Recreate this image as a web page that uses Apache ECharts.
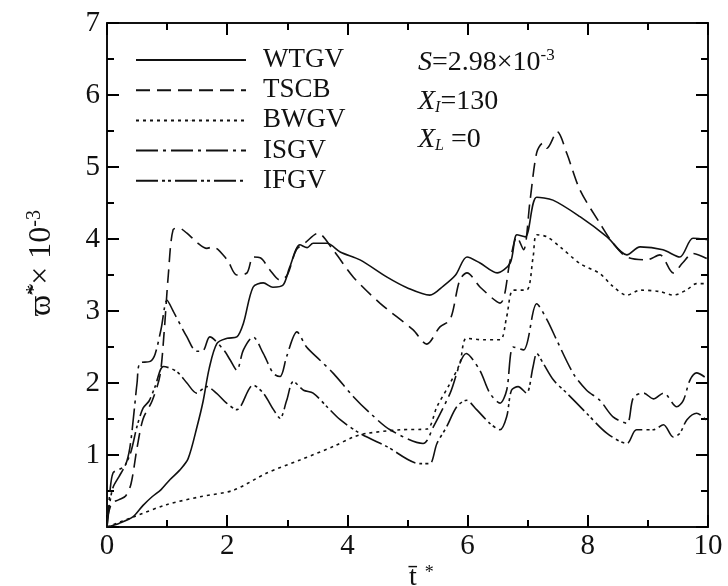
<!DOCTYPE html>
<html>
<head>
<meta charset="utf-8">
<script src="https://cdn.jsdelivr.net/npm/echarts@6/dist/echarts.min.js"></script>
<style>
  html, body { margin: 0; padding: 0; background: #fff; }
  #chart { width: 728px; height: 586px; }
</style>
</head>
<body>
<div id="chart"></div>
<script>
// values, [z, omega x 1e-3]
const wtgv = [[0,0],[0.2,0.05],[0.43,0.14],[0.6,0.3],[0.75,0.42],[0.9,0.52],[1.05,0.66],[1.21,0.79],[1.35,0.95],
  [1.5,1.4],[1.6,1.75],[1.7,2.2],[1.83,2.55],[2.0,2.62],[2.16,2.64],[2.27,2.83],[2.43,3.33],[2.6,3.39],[2.76,3.33],
  [2.93,3.36],[3.04,3.61],[3.21,3.92],[3.33,3.88],[3.43,3.94],[3.66,3.94],[3.88,3.82],[4.21,3.71],[4.66,3.47],
  [5.0,3.32],[5.37,3.22],[5.6,3.35],[5.8,3.5],[5.99,3.75],[6.2,3.67],[6.49,3.53],[6.71,3.67],[6.82,4.06],[6.96,4.03],
  [7.15,4.58],[7.42,4.54],[7.87,4.31],[8.32,4.03],[8.65,3.78],[8.87,3.89],[9.25,3.85],[9.53,3.75],[9.75,4.01],[10,3.99]];

const tscb = [[0,0.1],[0.08,0.33],[0.2,0.38],[0.31,0.43],[0.4,0.6],[0.5,1.1],[0.6,1.5],[0.75,1.75],[0.88,2.1],
  [0.95,2.7],[1.02,3.5],[1.1,4.13],[1.2,4.15],[1.33,4.08],[1.5,3.95],[1.66,3.87],[1.76,3.89],[2.0,3.71],[2.16,3.5],
  [2.33,3.53],[2.43,3.75],[2.55,3.74],[2.71,3.57],[2.88,3.43],[3.0,3.5],[3.15,3.85],[3.3,3.95],[3.51,4.08],
  [3.76,3.85],[4.1,3.47],[4.54,3.11],[5.09,2.74],[5.32,2.54],[5.54,2.78],[5.71,2.88],[5.87,3.43],[5.99,3.53],
  [6.21,3.33],[6.54,3.11],[6.71,3.71],[6.82,4.03],[6.93,3.85],[7.04,4.54],[7.15,5.2],[7.25,5.33],[7.32,5.26],
  [7.49,5.49],[7.65,5.19],[7.87,4.68],[8.2,4.22],[8.42,3.94],[8.65,3.75],[8.98,3.71],[9.2,3.78],[9.42,3.53],
  [9.58,3.67],[9.75,3.8],[10,3.72]];

const bwgv = [[0,0],[0.44,0.14],[0.99,0.31],[1.55,0.42],[2.1,0.51],[2.66,0.75],[3.21,0.93],[3.77,1.12],[4.1,1.25],
  [4.32,1.3],[4.88,1.35],[5.32,1.36],[5.49,1.67],[5.71,2.0],[5.87,2.27],[5.98,2.62],[6.26,2.6],[6.54,2.6],
  [6.65,2.92],[6.76,3.29],[6.98,3.29],[7.09,3.75],[7.15,4.06],[7.32,4.03],[7.54,3.89],[7.87,3.66],[8.2,3.52],
  [8.42,3.34],[8.65,3.22],[8.87,3.29],[9.2,3.27],[9.42,3.22],[9.64,3.29],[9.81,3.38],[10,3.38]];

const isgv = [[0,0],[0.05,0.5],[0.1,0.75],[0.2,0.8],[0.3,0.85],[0.38,1.1],[0.45,1.6],[0.5,2.0],[0.55,2.28],
  [0.72,2.3],[0.8,2.4],[0.9,2.75],[1.0,3.15],[1.1,3.0],[1.33,2.64],[1.49,2.44],[1.6,2.45],[1.71,2.64],[1.94,2.46],
  [2.05,2.32],[2.16,2.18],[2.27,2.46],[2.43,2.64],[2.6,2.41],[2.77,2.13],[2.88,2.09],[2.99,2.37],[3.16,2.71],
  [3.32,2.5],[3.54,2.32],[3.77,2.13],[4.1,1.81],[4.38,1.58],[4.71,1.35],[5.26,1.16],[5.43,1.39],[5.71,1.86],
  [5.98,2.41],[6.2,2.18],[6.37,1.86],[6.54,1.72],[6.65,1.9],[6.76,2.5],[6.93,2.46],[7.15,3.1],[7.32,2.88],
  [7.48,2.6],[7.76,2.13],[7.98,1.9],[8.2,1.76],[8.42,1.53],[8.65,1.44],[8.76,1.8],[8.93,1.86],[9.09,1.78],
  [9.26,1.86],[9.48,1.67],[9.59,1.76],[9.7,2.04],[9.81,2.14],[10,2.05]];

const ifgv = [[0,0],[0.05,0.35],[0.1,0.55],[0.2,0.7],[0.3,0.85],[0.4,1.05],[0.5,1.4],[0.6,1.65],[0.7,1.75],
  [0.8,1.95],[0.94,2.23],[1.16,2.16],[1.33,2.0],[1.49,1.86],[1.66,1.95],[1.82,1.86],[1.99,1.72],[2.16,1.63],
  [2.43,1.97],[2.6,1.86],[2.77,1.63],[2.88,1.51],[2.99,1.76],[3.1,2.02],[3.27,1.9],[3.43,1.86],[3.66,1.67],
  [3.88,1.49],[4.21,1.3],[4.65,1.12],[5.21,0.88],[5.37,0.88],[5.49,1.16],[5.65,1.39],[5.82,1.67],[5.98,1.76],
  [6.15,1.63],[6.37,1.44],[6.54,1.35],[6.65,1.53],[6.73,1.9],[6.84,1.95],[6.98,1.86],[7.09,2.23],[7.15,2.41],
  [7.26,2.27],[7.43,2.04],[7.65,1.86],[7.98,1.58],[8.32,1.3],[8.65,1.16],[8.81,1.35],[9.09,1.35],[9.26,1.42],
  [9.42,1.25],[9.53,1.3],[9.65,1.49],[9.81,1.58],[10,1.46]];

const seriesNames = ['WTGV', 'TSCB', 'BWGV', 'ISGV', 'IFGV'];
const seriesData = [wtgv, tscb, bwgv, isgv, ifgv];
const dashTypes = ['solid', [14, 7], [3, 4], [22, 5, 3, 5], [22, 4, 3, 3, 3, 4]];

const serif = 'Liberation Serif, Times New Roman, serif';
const ink = '#111';

const chart = echarts.init(document.getElementById('chart'));

// frame axis: line + inward ticks; split lines kept on but invisible
function frameAxis(extra) {
    return Object.assign({
        type: 'value',
        axisLine: {show: true, onZero: false, lineStyle: {color: ink, width: 2}},
        axisTick: {show: true, inside: true, length: 12, lineStyle: {color: '#000', width: 2}},
        minorTick: {show: true, splitNumber: 2, length: 7, lineStyle: {color: '#000', width: 2}},
        splitLine: {show: true, lineStyle: {color: 'rgba(0,0,0,0)'}}
    }, extra);
}

chart.setOption({
    backgroundColor: '#fff',
    animation: false,
    grid: {left: 107, right: 20, top: 23, bottom: 59},
    legend: {
        orient: 'vertical',
        left: 135,
        top: 46,
        padding: 0,
        itemWidth: 110,
        itemHeight: 1,
        itemGap: 2.2,
        data: seriesNames,
        textStyle: {fontFamily: serif, fontSize: 27, color: ink, lineHeight: 28, padding: [0, 0, 0, 12]}
    },
    xAxis: [
        frameAxis({
            min: 0, max: 10, interval: 2, position: 'bottom',
            axisLabel: {fontFamily: serif, fontSize: 29, color: ink, margin: 5}
        }),
        frameAxis({
            min: 0, max: 10, interval: 2, position: 'top',
            axisLabel: {show: false}
        })
    ],
    yAxis: [
        frameAxis({
            min: 0, max: 7, interval: 1, position: 'left',
            axisLabel: {
                fontFamily: serif, fontSize: 29, color: ink, margin: 7,
                formatter: function (v) { return v === 0 ? '' : v; }
            },
            name: '{w|\u03d6\u0303}{s|*}{t|\u00d7 10}{s|-3}',
            nameLocation: 'middle',
            nameRotate: 90,
            nameGap: 48,
            nameTextStyle: {
                padding: [0, 0, 0, 24],
                rich: {
                    w: {fontFamily: serif, fontSize: 32, color: ink},
                    t: {fontFamily: serif, fontSize: 32, color: ink},
                    s: {fontFamily: serif, fontSize: 20, color: ink, padding: [0, 0, 14, 0]}
                }
            }
        }),
        frameAxis({
            min: 0, max: 7, interval: 1, position: 'right',
            axisLabel: {show: false}
        })
    ],
    graphic: [
        {
            // x-axis title, cut off by the bottom edge as in the figure
            type: 'text', left: 409, top: 564,
            style: {
                text: '{a|t\u0304}{b|*}',
                rich: {
                    a: {fontFamily: serif, fontSize: 28, fill: ink},
                    b: {fontFamily: serif, fontSize: 18, fill: ink, padding: [0, 0, 10, 8]}
                }
            }
        },
        {
            type: 'text', left: 418, top: 47,
            style: {
                text: '{i|S}{n|=2.98\u00d710}{p|-3}',
                rich: {
                    i: {fontFamily: serif, fontStyle: 'italic', fontSize: 28, fill: ink},
                    n: {fontFamily: serif, fontSize: 28, fill: ink},
                    p: {fontFamily: serif, fontSize: 17, fill: ink, padding: [0, 0, 14, 0]}
                }
            }
        },
        {
            type: 'text', left: 418, top: 88,
            style: {
                text: '{i|X}{u|I}{n|=130}',
                rich: {
                    i: {fontFamily: serif, fontStyle: 'italic', fontSize: 28, fill: ink},
                    u: {fontFamily: serif, fontStyle: 'italic', fontSize: 16, fill: ink, padding: [12, 0, 0, 0]},
                    n: {fontFamily: serif, fontSize: 28, fill: ink}
                }
            }
        },
        {
            type: 'text', left: 418, top: 126,
            style: {
                text: '{i|X}{u|L}{n| =0}',
                rich: {
                    i: {fontFamily: serif, fontStyle: 'italic', fontSize: 28, fill: ink},
                    u: {fontFamily: serif, fontStyle: 'italic', fontSize: 16, fill: ink, padding: [12, 0, 0, 0]},
                    n: {fontFamily: serif, fontSize: 28, fill: ink}
                }
            }
        }
    ],
    series: seriesNames.map(function (name, i) {
        return {
            name: name,
            type: 'line',
            data: seriesData[i],
            showSymbol: false,
            symbol: 'none',
            smooth: 0.3,
            color: ink,
            lineStyle: {color: ink, width: 1.6, type: dashTypes[i]}
        };
    })
});
</script>
</body>
</html>
